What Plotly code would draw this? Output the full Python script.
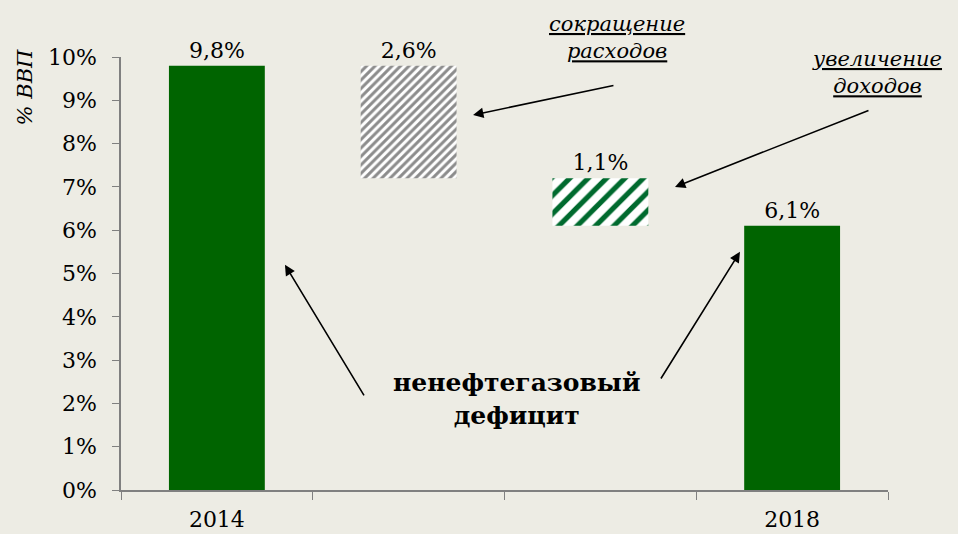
import plotly.graph_objects as go

categories = ["2014", " ", "  ", "2018"]
bases = [0, 7.2, 6.1, 0]
heights = [9.8, 2.6, 1.1, 6.1]
labels = ["9,8%", "2,6%", "1,1%", "6,1%"]
y_ticks = list(range(0, 11))

bg = "#EDECE4"
font = "DejaVu Serif"
tfont = dict(size=22, color="black", family=font)

# index groups: solid bars, grey striped, green striped
styles = [
    ([0, 3], dict(color="#006400", line=dict(width=0))),
    ([1], dict(color="white", line=dict(width=0),
               pattern=dict(shape="/", fgcolor="#8c8c8c", bgcolor="white", fgopacity=1,
                            size=6, solidity=0.5, fillmode="overlay"))),
    ([2], dict(color="white", line=dict(width=0),
               pattern=dict(shape="/", fgcolor="#006a2e", bgcolor="white", fgopacity=1,
                            size=13, solidity=0.4, fillmode="overlay"))),
]

fig = go.Figure()
for idx, marker in styles:
    fig.add_trace(go.Bar(
        x=[categories[i] for i in idx], y=[heights[i] for i in idx],
        base=[bases[i] for i in idx], width=0.5,
        text=[labels[i] for i in idx], textposition="outside", cliponaxis=False,
        textfont=tfont, marker=marker,
    ))

fig.update_xaxes(
    type="category", categoryorder="array", categoryarray=categories,
    tickson="boundaries", ticks="outside", ticklen=8, automargin=False,
    tickcolor="#808080", showline=True, linecolor="#808080", linewidth=1.5,
    showgrid=False, ticklabelstandoff=9, tickfont=tfont)
fig.update_yaxes(
    range=[0, 10], tickvals=y_ticks, ticktext=[f"{v}%" for v in y_ticks],
    ticks="outside", ticklen=7, automargin=False,
    tickcolor="#808080", showline=True, linecolor="#808080", linewidth=1.5,
    showgrid=False, zeroline=False, tickfont=tfont, ticklabelstandoff=11)

arrows = [
    (0.355, 5.2, 0.772, 2.15),
    (2.728, 5.5, 2.311, 2.54),
    (1.336, 8.66, 2.076, 9.35),
    (2.389, 7.0, 3.406, 8.78),
]
for hx, hy, tx, ty in arrows:
    fig.add_annotation(x=hx, y=hy, ax=tx, ay=ty, xref="x", yref="y", axref="x", ayref="y",
                       text="", showarrow=True, arrowhead=2, arrowsize=1.3, arrowwidth=1.6,
                       arrowcolor="black")

fig.add_annotation(x=-0.125, y=0.93, xref="paper", yref="paper", showarrow=False,
                   xanchor="center", yanchor="middle",
                   text="<i>% ВВП</i>", textangle=-90, font=dict(size=21, color="black", family=font))
fig.add_annotation(x=1.565, y=2.1, xref="x", yref="y", showarrow=False,
                   xanchor="center", yanchor="middle",
                   text="<b>ненефтегазовый<br>дефицит</b>",
                   font=dict(size=25, color="black", family=font))
fig.add_annotation(x=0.647, y=1.044, xref="paper", yref="paper", showarrow=False,
                   xanchor="center", yanchor="middle",
                   text="<i><u>сокращение</u></i><br><i><u>расходов</u></i>",
                   font=dict(size=21, color="black", family=font))
fig.add_annotation(x=0.986, y=0.965, xref="paper", yref="paper", showarrow=False,
                   xanchor="center", yanchor="middle",
                   text="<i><u>увеличение</u></i><br><i><u>доходов</u></i>",
                   font=dict(size=21, color="black", family=font))

fig.update_layout(
    width=958, height=534, showlegend=False, barmode="overlay",
    paper_bgcolor=bg, plot_bgcolor=bg,
    margin=dict(l=121, r=70, t=57, b=44),
)

fig.write_html("out.html", config={"displayModeBar": False},
               post_script="document.body.style.margin='0';document.body.style.background='%s';" % bg)
